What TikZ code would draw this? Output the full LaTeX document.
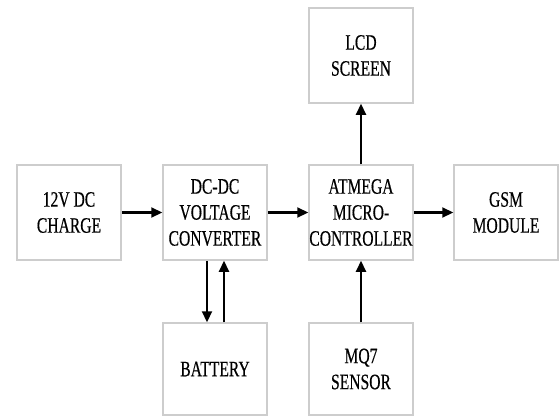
\documentclass[tikz,border=0pt]{standalone}
\usepackage{fontspec}
\setmainfont{Liberation Serif}[FakeStretch=0.71,FakeBold=0.4]
\usetikzlibrary{arrows.meta}
\begin{document}
\begin{tikzpicture}[x=1pt,y=-1pt,
  blk/.style={draw={rgb,255:red,205;green,205;blue,205},line width=1.5pt,minimum width=104pt,minimum height=95pt,inner sep=0pt,align=center,font=\fontsize{22}{26}\selectfont},
  arr/.style={line width=2.2pt,-{Triangle[length=11pt,width=10pt]}}]
\useasboundingbox (0,0) rectangle (560,418);
\node[blk] (chg) at (69,212.5) {12V DC\\CHARGE};
\node[blk] (dc) at (215,212.5) {DC-DC\\VOLTAGE\\CONVERTER};
\node[blk] (mcu) at (361,212.5) {ATMEGA\\MICRO-\\CONTROLLER};
\node[blk] (gsm) at (506,212.5) {GSM\\MODULE};
\node[blk] (lcd) at (361,55.5) {LCD\\SCREEN};
\node[blk,minimum height=92pt] (bat) at (215,369) {BATTERY};
\node[blk,minimum height=92pt] (mq) at (361,369) {MQ7\\SENSOR};
\draw[arr] (chg) -- (dc);
\draw[arr] (dc) -- (mcu);
\draw[arr] (mcu) -- (gsm);
\draw[arr] (mcu) -- (lcd);
\draw[arr] (mq) -- (mcu);
\draw[arr] ([xshift=-8pt]dc.south) -- ([xshift=-8pt]bat.north);
\draw[arr] ([xshift=9pt]bat.north) -- ([xshift=9pt]dc.south);
\end{tikzpicture}
\end{document}
